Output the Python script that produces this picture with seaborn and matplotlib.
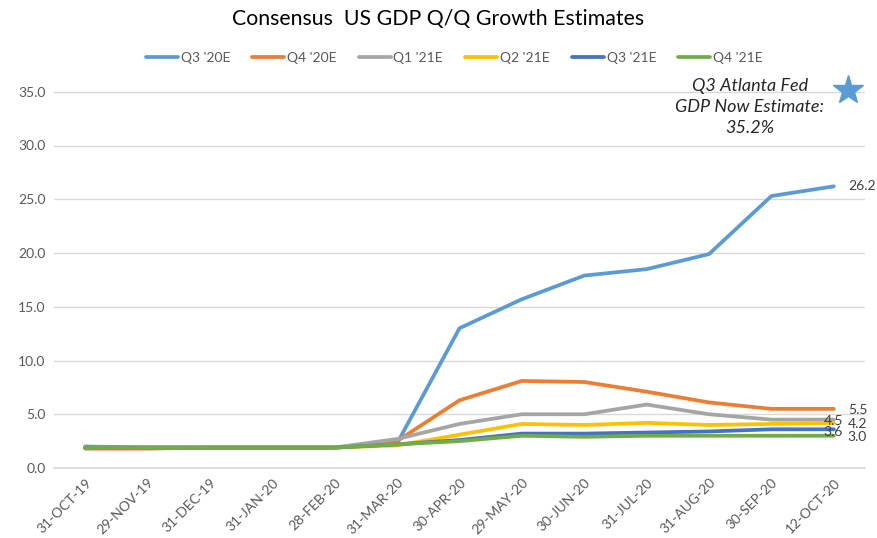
import matplotlib
matplotlib.use("Agg")
import matplotlib.pyplot as plt
import seaborn as sns
import pandas as pd

dates = ["31-OCT-19", "29-NOV-19", "31-DEC-19", "31-JAN-20", "28-FEB-20", "31-MAR-20",
         "30-APR-20", "29-MAY-20", "30-JUN-20", "31-JUL-20", "31-AUG-20", "30-SEP-20", "12-OCT-20"]
series_names = ["Q3 '20E", "Q4 '20E", "Q1 '21E", "Q2 '21E", "Q3 '21E", "Q4 '21E"]
q3_20 = [2.0, 1.9, 1.9, 1.9, 1.9, 2.3, 13.0, 15.7, 17.9, 18.5, 19.9, 25.3, 26.2]
q4_20 = [1.8, 1.8, 1.9, 1.9, 1.9, 2.5, 6.3, 8.1, 8.0, 7.1, 6.1, 5.5, 5.5]
q1_21 = [1.9, 1.9, 1.9, 1.9, 1.9, 2.7, 4.1, 5.0, 5.0, 5.9, 5.0, 4.5, 4.5]
q2_21 = [1.9, 1.9, 1.9, 1.9, 1.9, 2.1, 3.1, 4.1, 4.0, 4.2, 4.0, 4.1, 4.2]
q3_21 = [1.9, 1.9, 1.9, 1.9, 1.9, 2.2, 2.6, 3.2, 3.2, 3.3, 3.4, 3.6, 3.6]
q4_21 = [1.9, 1.9, 1.9, 1.9, 1.9, 2.2, 2.5, 3.0, 2.9, 3.0, 3.0, 3.0, 3.0]
atlanta_fed = 35.2
y_ticks = [0, 5, 10, 15, 20, 25, 30, 35]

colors = ["#5B9BD5", "#ED7D31", "#A5A5A5", "#FFC000", "#4472C4", "#70AD47"]
all_series = [q3_20, q4_20, q1_21, q2_21, q3_21, q4_21]

rows = []
for name, vals in zip(series_names, all_series):
    for d, v in zip(dates, vals):
        rows.append({"date": d, "value": v, "series": name})
df = pd.DataFrame(rows)

sns.set_theme(style="white")
plt.rcParams["font.family"] = ["Lato", "DejaVu Sans"]

fig = plt.figure(figsize=(8.77, 5.38), dpi=100)
ax = fig.add_axes([54 / 877, 70 / 538, (865 - 54) / 877, (468 - 81) / 538])

sns.lineplot(data=df, x="date", y="value", hue="series", hue_order=series_names,
             palette=colors, linewidth=2.7, sort=False, ax=ax, legend=True)

ax.set_xlim(-0.5, len(dates) - 0.5)
ax.set_ylim(0, 36)
ax.set_yticks(y_ticks)
ax.set_yticklabels([f"{t:.1f}" for t in y_ticks], fontsize=10, color="#595959")
ax.set_xticks(range(len(dates)))
ax.set_xticklabels(dates, rotation=45, ha="right", rotation_mode="anchor",
                   fontsize=10, color="#595959")
ax.tick_params(axis="both", length=0, pad=6)
ax.yaxis.grid(True, color="#D9D9D9", linewidth=1)
ax.set_axisbelow(True)
for s in ["top", "right", "left"]:
    ax.spines[s].set_visible(False)
ax.spines["bottom"].set_color("#D9D9D9")
ax.set_xlabel("")
ax.set_ylabel("")

# end labels
offsets = {"Q3 '20E": (14, 0, "left"), "Q4 '20E": (14, -1, "left"), "Q1 '21E": (-10, -1, "left"),
           "Q2 '21E": (14, -1, "left"), "Q3 '21E": (-10, -3, "left"), "Q4 '21E": (14, -1, "left")}
last = len(dates) - 1
for name, vals in zip(series_names, all_series):
    dx, dy, ha = offsets[name]
    ax.annotate(f"{vals[-1]:.1f}", xy=(last, vals[-1]), xytext=(dx, dy),
                textcoords="offset pixels", ha=ha, va="center", fontsize=10, color="#404040")

# Atlanta Fed star
ax.plot([last + 0.23], [atlanta_fed], marker="*", markersize=22, color="#5B9BD5",
        clip_on=False, linestyle="none")
ax.text(10.65, 33.6, "Q3 Atlanta Fed\nGDP Now Estimate:\n35.2%", ha="center", va="center",
        fontsize=13, style="italic", color="#262626", linespacing=1.4)

handles, labels = ax.get_legend_handles_labels()
ax.legend_.remove()
fig.legend(handles, labels, loc="center", bbox_to_anchor=(0.518, 1 - 58 / 538), ncol=6,
           frameon=False, fontsize=10, handlelength=2.3, columnspacing=1.6, handletextpad=0.2,
           labelcolor="#595959")

fig.suptitle("Consensus  US GDP Q/Q Growth Estimates", y=1 - 19 / 538, va="center",
             fontsize=15.3, color="#000000")

fig.savefig("out.png", dpi=100)
